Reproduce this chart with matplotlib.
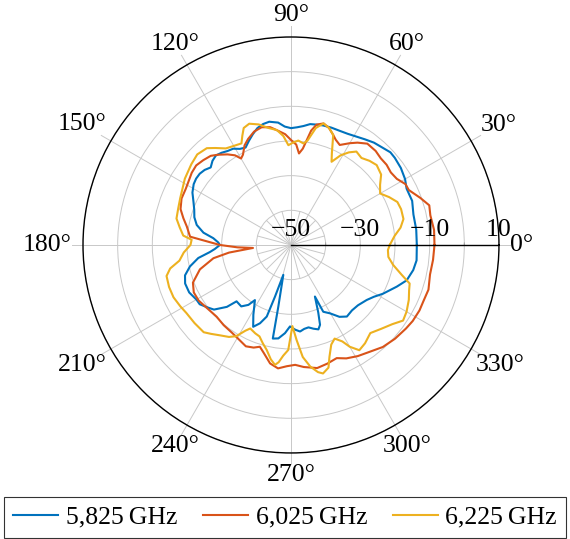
#!/usr/bin/env python3
import numpy as np
import matplotlib.pyplot as plt

plt.rcParams["font.family"] = ["Liberation Serif", "DejaVu Serif"]
plt.rcParams["font.size"] = 18.5

# angle [deg] / gain [dB]
ang_5825 = [0, 7, 14, 20, 26, 30, 35, 40, 43, 47, 51, 55, 59, 63, 67, 71, 75, 78, 81, 84, 87, 90,
            93, 96, 100, 103, 106, 109, 112, 115, 118, 121, 124, 127, 130, 133, 136, 139, 142, 145,
            148, 152, 156, 160, 164, 168, 172, 175, 178, 180, 183, 185, 188, 192, 196, 200, 205,
            210, 213, 217, 220, 224, 226, 231, 234.6, 236.8, 241.7, 245.2, 248.4, 251.3, 252.8,
            255.6, 258.4, 259, 262.3, 266.1, 269.3, 273, 276, 279, 282, 285, 288, 290, 292, 294.9,
            295.8, 299.7, 304, 308, 313, 318, 324, 328, 332, 338.5, 343, 348.4, 353, 360]
db_5825 = [-13.7, -13.6, -13.6, -12.8, -12.9, -12.0, -11.3, -10.9, -10.8, -11.5, -12.0, -12.8, -13.5,
           -14.0, -14.2, -14.2, -14.3, -14.5, -14.7, -15.5, -16.0, -16.3, -15.8, -14.5, -13.9, -14.2,
           -14.9, -16.2, -17.6, -19.0, -18.6, -17.6, -17.3, -16.7, -16.3, -16.8, -17.8, -17.0, -16.6,
           -16.6, -16.9, -17.8, -19.2, -20.3, -21.0, -22.2, -24.5, -27.5, -29.0, -29.5, -28.0, -26.5,
           -23.0, -20.2, -18.2, -17.5, -17.6, -18.5, -18.6, -20.0, -21.0, -24.3, -27.4, -27.2, -28.8,
           -31.0, -27.1, -24.0, -25.7, -28.2, -34.4, -41.1, -31.8, -22.5, -22.8, -24.5, -26.5, -25.5,
           -24.9, -25.5, -25.7, -25.0, -24.4, -25.5, -29.0, -33.6, -28.6, -27.3, -25.0, -23.8, -24.2,
           -24.0, -23.0, -21.8, -20.0, -17.2, -15.1, -14.0, -13.5, -13.7]

ang_6025 = [0, 6, 12, 16, 20, 25, 28, 32, 36, 40, 44, 48, 53, 57, 60, 64, 67, 69, 72, 75, 78, 80, 83,
            85, 87, 90, 93, 96, 100, 104, 108, 112, 115, 118, 120, 122, 125, 129, 132, 136, 140, 144,
            148, 152, 157, 162, 166, 170, 174, 175.3, 180, 182.5, 184.5, 187, 189.7, 195, 201, 206,
            211, 218, 224, 230, 236, 241, 246, 250, 253, 256, 260, 264, 268, 272, 276, 282, 287, 292,
            296, 301, 306, 312, 318, 324, 328, 333, 337, 342, 348, 354, 360]
db_6025 = [-8.6, -8.5, -8.9, -8.5, -10.3, -12.5, -12.6, -14.0, -14.4, -14.0, -14.0, -13.5, -13.4,
           -14.8, -16.1, -17.9, -17.0, -16.0, -14.5, -13.7, -14.5, -16.5, -22.0, -23.5, -21.0, -19.7,
           -18.0, -17.0, -15.5, -15.0, -15.6, -17.0, -18.3, -20.5, -21.2, -19.5, -18.1, -16.5, -15.4,
           -14.8, -14.3, -14.6, -15.2, -15.6, -15.7, -16.5, -18.0, -19.5, -20.5, -20.8, -29.5, -34.5,
           -39.0, -32.0, -27.3, -22.8, -19.7, -18.8, -18.9, -19.8, -20.2, -19.8, -19.5, -18.9, -18.0,
           -18.5, -19.3, -17.8, -15.3, -14.2, -15.0, -15.4, -14.6, -13.7, -14.2, -14.8, -13.6, -12.6,
           -11.8, -10.4, -9.6, -9.0, -8.6, -8.4, -8.5, -8.3, -9.0, -8.8, -8.6]

ang_6225 = [0, 5, 9, 13, 18, 22, 26, 30, 34, 38, 43, 47, 51, 55, 58, 61, 64, 66, 69, 72, 75, 78, 81,
            83, 86, 89, 91.5, 94, 97, 101, 105, 109, 112, 114, 116, 120, 124, 128, 131, 136, 141,
            148, 153, 157, 162, 167, 171, 175, 177, 180, 184, 188, 191, 194, 199, 204, 209, 213, 219,
            225, 228, 232, 236, 239, 242, 244, 248, 251, 254, 257, 260, 262.4, 264, 266, 268.5,
            271, 273.4, 276, 279, 282, 284, 287, 289, 292, 295, 298, 300, 303, 307, 312, 317, 322,
            326, 330, 335, 339, 342, 345, 349, 353, 357, 360]
db_6225 = [-21.5, -20.0, -18.0, -16.7, -16.6, -16.9, -18.5, -20.3, -19.0, -17.0, -16.2, -16.8, -17.7,
           -17.1, -18.5, -20.4, -23.3, -21.0, -16.0, -14.5, -13.7, -15.5, -19.5, -20.5, -19.8, -20.5,
           -21.2, -18.5, -16.6, -15.6, -14.0, -13.0, -13.6, -15.5, -17.4, -17.0, -16.4, -14.5, -13.0,
           -12.4, -13.0, -13.9, -14.8, -15.3, -15.8, -16.1, -17.5, -18.8, -21.3, -21.0, -19.0, -17.5,
           -14.5, -13.0, -12.8, -12.9, -13.5, -14.0, -14.2, -14.4, -15.5, -16.9, -18.0, -19.3, -22.0,
           -23.2, -22.5, -22.1, -20.5, -18.9, -16.5, -15.1, -16.0, -18.0, -19.7, -26.6, -22.5, -17.5,
           -14.5, -12.5, -11.8, -13.0, -15.9, -19.0, -20.2, -18.5, -16.1, -13.8, -14.5, -15.8, -14.5,
           -12.9, -11.0, -11.5, -12.5, -13.5, -14.0, -17.0, -20.0, -21.7, -22.0, -21.5]

labels = ["5,825\u2009GHz", "6,025\u2009GHz", "6,225\u2009GHz"]
colors = ["#0072BD", "#D95319", "#EDB120"]
theta_ticks = list(range(0, 360, 30))
r_labels = [-50, -30, -10, 10]

rmin, rmax = -50, 10
grid_c = "#c8c8c8"

fig = plt.figure(figsize=(5.70, 5.39), dpi=100)
ax = fig.add_axes([0.1456, 0.1596, 0.7298, 0.7718], projection="polar")

for a, d, lab, c in zip([ang_5825, ang_6025, ang_6225], [db_5825, db_6025, db_6225], labels, colors):
    ax.plot(np.deg2rad(a), d, color=c, lw=1.5, label=lab, zorder=3)

ax.set_rlim(rmin, rmax)
ax.set_rticks(np.arange(-40, 11, 10))
ax.set_yticklabels([])
ax.set_thetagrids(theta_ticks, [""] * len(theta_ticks))
ax.grid(True, color=grid_c, lw=0.7)
ax.spines["polar"].set_color("black")
ax.spines["polar"].set_linewidth(1.0)

# extra spokes every 15 deg inside the innermost ring
for t in np.arange(15, 360, 30):
    ax.plot([np.deg2rad(t)] * 2, [rmin, -40], color=grid_c, lw=0.7, zorder=1)

# radial axis along 0 deg
ax.plot([0, 0], [rmin, rmax], color="black", lw=1.0, zorder=4)
for r in [-40, -20, 0]:
    ax.annotate("", xy=(0, r), xytext=(0, 5), textcoords="offset pixels",
                arrowprops=dict(arrowstyle="-", color="#a0a0a0", lw=0.7))
for r in r_labels:
    ax.annotate(f"{r}".replace("-", "\u2212"), xy=(0, r), xytext=(0, 4),
                textcoords="offset pixels", ha="center", va="bottom", fontsize=18.5, zorder=5)

# angle labels: spoke runs a little past the rim, label anchored at its end
renderer = fig.canvas.get_renderer()
ext = 11
dr = ext / (ax.get_window_extent().width / 2) * (rmax - rmin)
for t in theta_ticks:
    th = np.deg2rad(t)
    ax.plot([th, th], [rmax, rmax + dr], color=grid_c, lw=0.7, clip_on=False, zorder=1)
    txt = ax.annotate(f"{t}\u00b0", xy=(th, rmax), xytext=(0, 0), textcoords="offset pixels",
                      ha="center", va="center", fontsize=18.5, annotation_clip=False)
    bb = txt.get_window_extent(renderer)
    c, s = np.cos(th), np.sin(th)
    tx = bb.width / 2 / abs(c) if abs(c) > 1e-6 else np.inf
    ty = bb.height / 2 / abs(s) if abs(s) > 1e-6 else np.inf
    d = ext + min(tx, ty)
    txt.xyann = (d * c, d * s)

leg = fig.legend(loc="lower center", bbox_to_anchor=(0.5, 0.0), ncol=3, frameon=True,
                 fancybox=False, edgecolor="black", fontsize=18.5, handlelength=1.75,
                 handletextpad=0.3, columnspacing=1.0, borderpad=0.35, borderaxespad=0.05)
leg.get_frame().set_linewidth(0.8)

fig.savefig("out.png", dpi=100)
